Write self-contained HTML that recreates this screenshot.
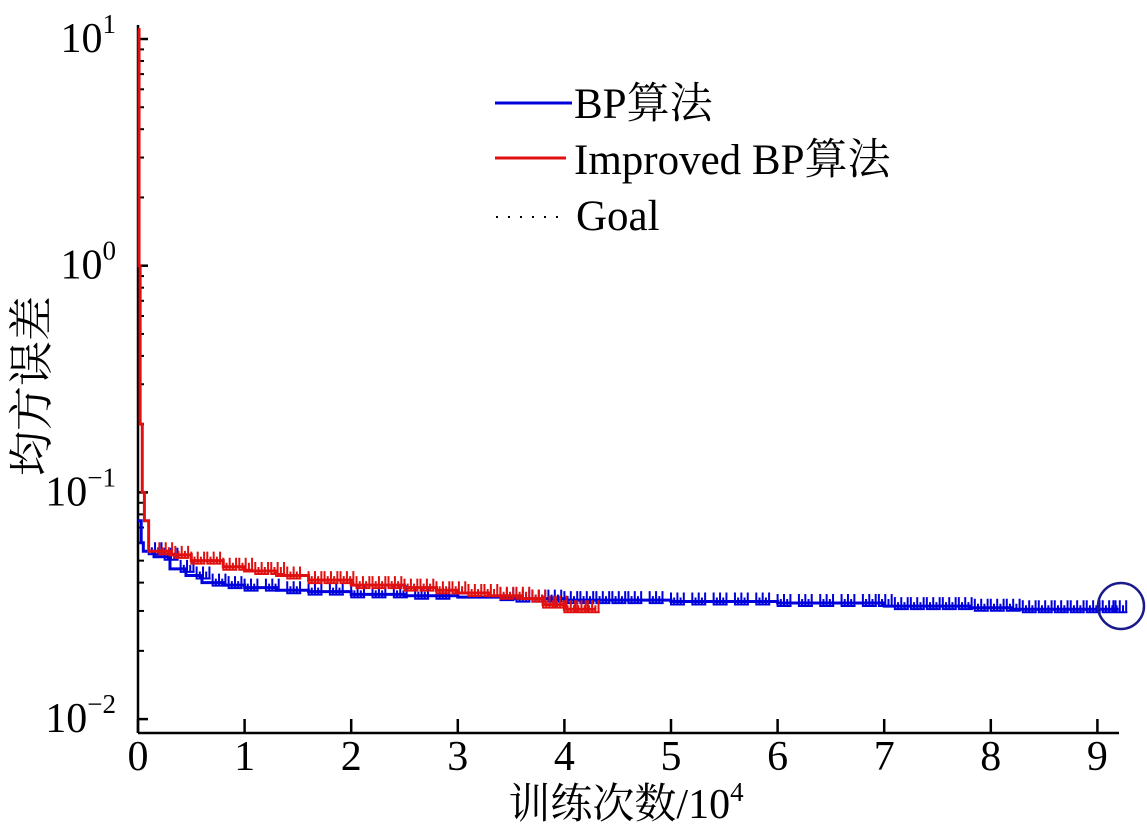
<!DOCTYPE html>
<html><head><meta charset="utf-8"><style>
html,body{margin:0;padding:0;background:#fff;}
svg{display:block;font-family:"Liberation Serif","Noto Serif CJK SC",serif;}
</style></head><body>
<svg id="chart" width="1147" height="833" viewBox="0 0 1147 833" xmlns="http://www.w3.org/2000/svg">
<g id="axes"></g>
<g id="series"></g>
<circle cx="1121" cy="606" r="23" fill="none" stroke="#1a1a8c" stroke-width="2.5"/>
<g>
  <line x1="495" y1="103" x2="572" y2="103" stroke="#0000dd" stroke-width="3"/>
  <text x="574" y="118" font-size="43">BP算法</text>
  <line x1="495" y1="158" x2="566" y2="158" stroke="#e01010" stroke-width="3"/>
  <text x="574" y="174" font-size="43">Improved BP算法</text>
  <line x1="496" y1="217" x2="560" y2="217" stroke="#000" stroke-width="2" stroke-dasharray="2,10"/>
  <text x="576" y="230" font-size="43">Goal</text>
</g>
<text transform="translate(47,386) rotate(-90)" text-anchor="middle" font-size="45">均方误差</text>
<text x="626" y="818" text-anchor="middle" font-size="42">训练次数/10<tspan dy="-17" font-size="27">4</tspan></text>
</svg>
<script>
const xTicks=[0,1,2,3,4,5,6,7,8,9];
const yDecades=[1,0,-1,-2];
const bpX=[0,0.03,0.05,0.15,0.3,0.45,0.6,0.8,1.0,1.3,1.6,2.0,2.5,3.0,3.5,4.0,4.5,5.0,5.5,6.0,6.5,7.0,7.5,7.8,8.2,8.6,9.2];
const bpY=[0.075,0.06,0.055,0.052,0.046,0.043,0.040,0.039,0.038,0.037,0.0365,0.0355,0.035,0.0345,0.034,0.0335,0.0335,0.033,0.033,0.0325,0.0325,0.0315,0.0315,0.031,0.0305,0.0305,0.0305];
const bpSpikes=[0.1,0.25,0.4,0.55,0.7,0.85,1.0,1.2,1.4,1.6,1.8,2.0,2.2,2.4,2.6,2.8,3.4,3.55,3.7,3.85,4.0,4.15,4.3,4.45,4.6,4.8,5.0,5.2,5.4,5.6,5.8,6.0,6.2,6.4,6.6,6.8,6.95,7.1,7.25,7.4,7.55,7.7,7.85,8.0,8.15,8.3,8.45,8.6,8.75,8.9,9.05,9.15];
const imX=[0,0.01,0.02,0.04,0.06,0.1,0.3,0.5,0.8,1.0,1.3,1.6,2.0,2.5,2.8,3.0,3.3,3.6,3.8,4.0,4.3];
const imY=[11,1.0,0.2,0.1,0.075,0.055,0.053,0.05,0.047,0.045,0.043,0.041,0.039,0.038,0.037,0.036,0.035,0.034,0.032,0.0305,0.0305];
const imSpikes=[0.2,0.35,0.5,0.65,0.8,0.95,1.1,1.25,1.4,1.6,1.75,1.9,2.05,2.2,2.35,2.5,2.65,2.8,2.95,3.1,3.25,3.4,3.55,3.7,3.8,3.9,4.0,4.1,4.2];

const X0=138,XU=106.6,YTOP=39,DEC=226.7,YBOT=733,XEND=1119;
function sx(v){return X0+v*XU;}
function sy(v){return YTOP+(1-Math.log10(v))*DEC;}
const NS="http://www.w3.org/2000/svg";
function mk(tag,attrs,parent){const e=document.createElementNS(NS,tag);for(const k in attrs)e.setAttribute(k,attrs[k]);parent.appendChild(e);return e;}
const axes=document.getElementById('axes'),series=document.getElementById('series');
let a=mk('line',{x1:X0,y1:YBOT,x2:XEND,y2:YBOT,stroke:'#000','stroke-width':2.5},axes);


a=mk('line',{x1:X0,y1:25,x2:X0,y2:YBOT,stroke:'#000','stroke-width':2.5},axes);


xTicks.forEach(t=>{
  const tk=mk('line',{x1:sx(t),y1:YBOT,x2:sx(t),y2:YBOT-14,stroke:'#000','stroke-width':2.5},axes);
  
  
  const tx=mk('text',{x:sx(t),y:770,'text-anchor':'middle','font-size':42},axes);
  tx.textContent=t;
  
  
});
yDecades.forEach(d=>{
  const base=Math.pow(10,d);
  const y=sy(base);
  const tk=mk('line',{x1:X0,y1:y,x2:X0+10,y2:y,stroke:'#000','stroke-width':2.5},axes);
  
  
  const tx=mk('text',{x:116,y:y+13,'text-anchor':'end','font-size':42},axes);
  
  
  tx.textContent='10';
  const sp=mk('tspan',{dy:-19,'font-size':27},tx);sp.textContent=d<0?'\u2212'+(-d):String(d);
  if(d>-2){for(let m=2;m<=9;m++){const yy=sy(base*m/10);
    const mt=mk('line',{x1:X0,y1:yy,x2:X0+6,y2:yy,stroke:'#000','stroke-width':2},axes);
    
    }}
});
function stepPath(xs,ys){let d='M'+sx(xs[0])+','+sy(ys[0]);for(let i=1;i<xs.length;i++){d+=' H'+sx(xs[i])+' V'+sy(ys[i]);}return d;}
function interp(xs,ys,x){let v=ys[0];for(let i=0;i<xs.length;i++){if(xs[i]<=x)v=ys[i];}return v;}
function drawSeries(xs,ys,spk,color,name){
  const p=mk('path',{d:stepPath(xs,ys),fill:'none',stroke:color,'stroke-width':3},series);
  
  
  let d='';
  spk.forEach(s=>{const y=sy(interp(xs,ys,s));
    for(let k=0;k<5;k++){const xx=sx(s)+k*3.2;d+='M'+xx+','+(y+4)+' V'+(y-(k%2?4:9))+' ';}
    d+='M'+sx(s)+','+(y+3)+' H'+(sx(s)+14)+' ';});
  const q=mk('path',{d:d,fill:'none',stroke:color,'stroke-width':2},series);
  
  
}
drawSeries(bpX,bpY,bpSpikes,'#0000dd','bp-series');
drawSeries(imX,imY,imSpikes,'#e01010','improved-series');
</script>
</body></html>
